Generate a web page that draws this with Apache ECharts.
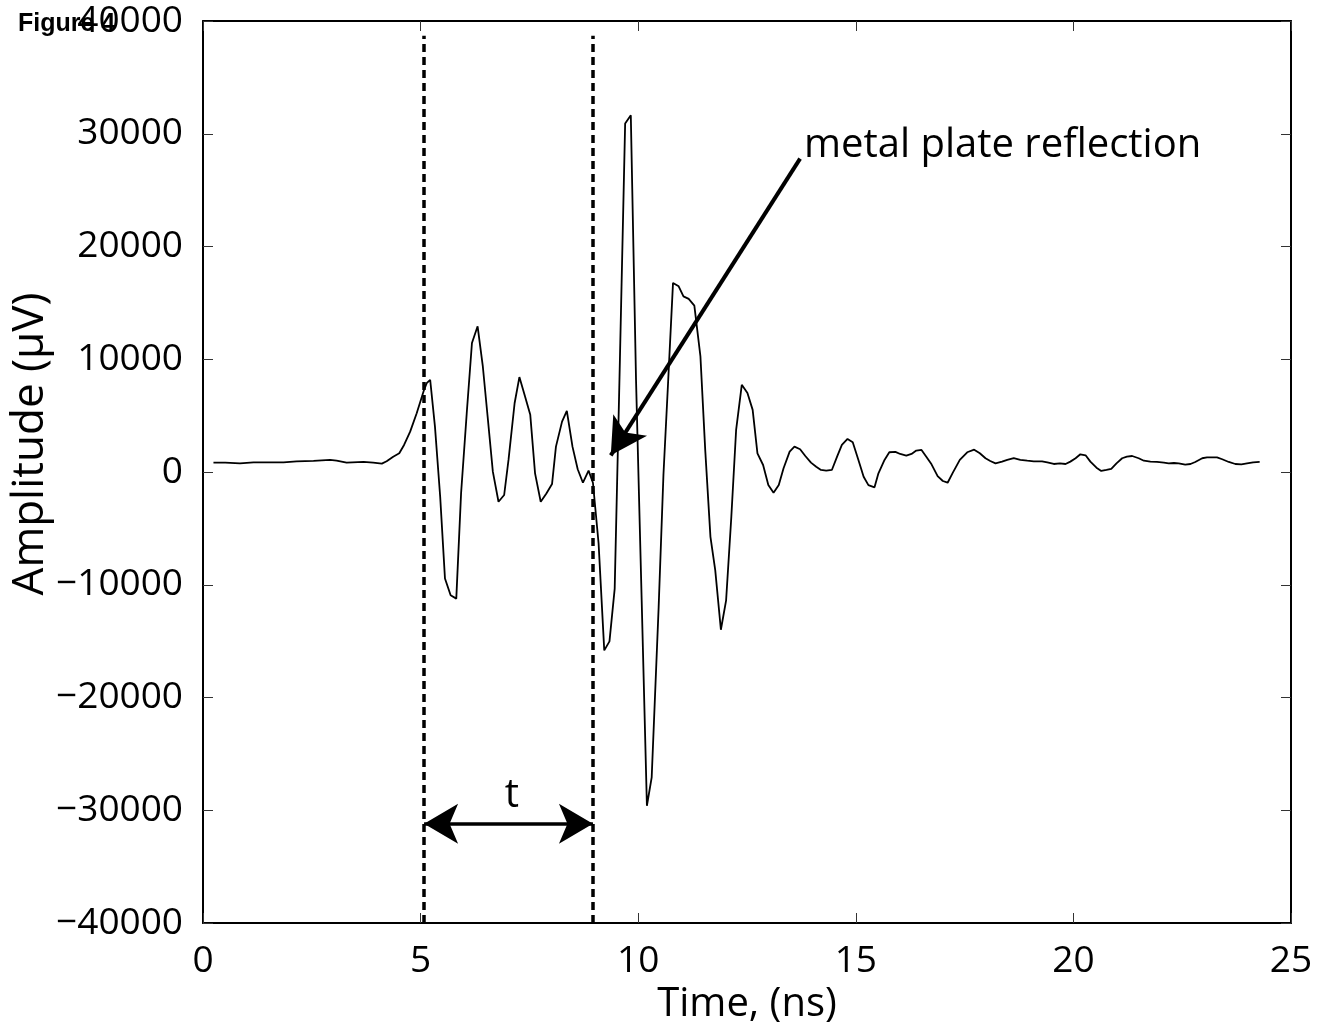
<!DOCTYPE html>
<html>
<head>
<meta charset="utf-8">
<script src="https://cdn.jsdelivr.net/npm/echarts@6/dist/echarts.min.js"></script>
<style>
html,body{margin:0;padding:0;background:#fff;}
#chart{width:1324px;height:1035px;}
</style>
</head>
<body>
<div id="chart"></div>
<script>
// Time samples (ns)
const timeNs = [
0.24,0.51,0.85,1.16,1.46,1.85,2.15,2.54,2.92,3.07,3.30,3.69,3.91,4.11,4.22,4.37,4.51,4.62,4.76,4.91,
5.08,5.14,5.22,5.33,5.45,5.56,5.69,5.82,5.93,6.06,6.18,6.31,6.43,6.54,6.66,6.79,6.92,7.02,7.16,7.27,
7.40,7.52,7.63,7.76,7.89,8.02,8.11,8.25,8.36,8.49,8.61,8.73,8.86,8.96,9.09,9.22,9.34,9.46,9.58,9.70,
9.83,9.95,10.08,10.20,10.31,10.47,10.58,10.69,10.80,10.93,11.04,11.16,11.29,11.43,11.54,11.66,11.77,11.90,12.02,12.14,
12.25,12.38,12.51,12.63,12.74,12.87,12.99,13.11,13.23,13.34,13.48,13.59,13.72,13.84,13.97,14.09,14.20,14.32,14.45,14.57,
14.68,14.81,14.93,15.06,15.18,15.29,15.43,15.52,15.66,15.77,15.91,16.02,16.16,16.28,16.39,16.51,16.62,16.74,16.88,17.00,
17.11,17.23,17.39,17.56,17.72,17.85,17.98,18.09,18.21,18.36,18.48,18.63,18.78,18.94,19.09,19.28,19.40,19.55,19.69,19.82,
19.93,20.05,20.16,20.28,20.39,20.53,20.64,20.76,20.87,20.99,21.12,21.23,21.35,21.50,21.62,21.77,21.92,22.08,22.19,22.31,
22.42,22.57,22.69,22.80,22.96,23.07,23.19,23.30,23.42,23.57,23.72,23.86,23.99,24.13,24.28
];
// Amplitude (µV)
const amplitude = [
830,830,770,860,860,860,950,980,1070,1000,830,890,830,740,950,1360,1660,2400,3580,5210,
7290,7880,8180,4030,-2190,-9450,-10930,-11230,-1900,5210,11440,12920,9360,4920,30,-2640,-2040,1070,6100,8420,
6690,5070,-120,-2640,-1900,-1070,2250,4470,5420,2250,240,-950,120,-950,-6340,-15820,-15020,-10340,10000,30900,
31640,8180,-11400,-29600,-27080,-11970,-270,8180,16770,16470,15580,15350,14760,10250,1960,-5750,-8710,-13990,-11380,-3970,
3730,7730,7000,5510,1660,620,-1160,-1840,-1160,330,1810,2250,2020,1420,830,470,180,120,180,1360,
2400,2930,2640,1070,-420,-1160,-1360,-120,1070,1750,1780,1600,1450,1600,1900,1960,1360,680,-360,-800,
-950,-60,1070,1750,1980,1660,1220,980,770,920,1070,1220,1070,1000,950,950,860,710,770,710,
920,1220,1570,1480,920,380,90,180,270,770,1220,1360,1420,1220,1000,920,890,830,770,800,
770,650,710,890,1220,1300,1300,1300,1130,890,710,680,770,860,890
];
// Annotation positions (data coordinates)
const markerTimes = [5.08, 8.96];          // dashed vertical lines
const markerTop = 38700;
const spanArrowLevel = -31200;             // "t" double arrow
const reflArrowFrom = [13.72, 27800];      // "metal plate reflection" arrow
const reflArrowTo = [9.37, 1480];
const xTicks = {min: 0, max: 25, interval: 5};
const yTicks = {min: -40000, max: 40000, interval: 10000};

const FONT = '"Open Sans", "Noto Sans", sans-serif';
const fmtNum = v => String(v).replace('-', '\u2212');

const seriesData = timeNs.map((t, i) => [t, amplitude[i]]);

const chart = echarts.init(document.getElementById('chart'), null, {renderer: 'canvas'});

const option = {
  animation: false,
  backgroundColor: '#fff',
  title: {
    text: 'Figure 4',
    left: 13, top: 7,
    textStyle: {fontFamily: '"Liberation Sans", Arial, sans-serif', fontWeight: 'bold', fontSize: 25, color: '#000'}
  },
  grid: {left: 203, right: 33, top: 21, bottom: 112, containLabel: false},
  xAxis: [{
    type: 'value', min: xTicks.min, max: xTicks.max, interval: xTicks.interval,
    position: 'bottom',
    name: 'Time, (ns)', nameLocation: 'middle', nameGap: 60,
    nameTextStyle: {fontFamily: FONT, fontSize: 40, color: '#000'},
    axisLine: {show: true, onZero: false, lineStyle: {color: '#000', width: 2}},
    axisTick: {show: true, inside: true, length: 10, lineStyle: {color: '#333', width: 1}},
    axisLabel: {fontFamily: FONT, fontSize: 37, color: '#000', margin: 20, formatter: fmtNum},
    splitLine: {show: false}
  }, {
    type: 'value', min: xTicks.min, max: xTicks.max, interval: xTicks.interval,
    position: 'top',
    axisLine: {show: true, onZero: false, lineStyle: {color: '#000', width: 2}},
    axisTick: {show: true, inside: true, length: 10, lineStyle: {color: '#333', width: 1}},
    axisLabel: {show: false},
    splitLine: {show: false}
  }],
  yAxis: [{
    type: 'value', min: yTicks.min, max: yTicks.max, interval: yTicks.interval,
    position: 'left',
    axisLine: {show: true, onZero: false, lineStyle: {color: '#000', width: 2}},
    axisTick: {show: true, inside: true, length: 10, lineStyle: {color: '#333', width: 1}},
    axisLabel: {fontFamily: FONT, fontSize: 37, color: '#000', margin: 20, formatter: fmtNum},
    splitLine: {show: false}
  }, {
    type: 'value', min: yTicks.min, max: yTicks.max, interval: yTicks.interval,
    position: 'right',
    axisLine: {show: true, onZero: false, lineStyle: {color: '#000', width: 2}},
    axisTick: {show: true, inside: true, length: 10, lineStyle: {color: '#333', width: 1}},
    axisLabel: {show: false},
    splitLine: {show: false}
  }],
  series: [{
    type: 'line',
    data: seriesData,
    xAxisIndex: 0, yAxisIndex: 0,
    symbol: 'none',
    lineStyle: {color: '#000', width: 1.8},
    z: 3,
    markLine: {
      silent: true,
      animation: false,
      label: {show: false},
      emphasis: {disabled: true},
      data: [
        [{coord: [markerTimes[0], yTicks.min], symbol: 'none', lineStyle: {type: [8, 5], width: 3.5, color: '#000'}},
         {coord: [markerTimes[0], markerTop], symbol: 'none'}],
        [{coord: [markerTimes[1], yTicks.min], symbol: 'none', lineStyle: {type: [8, 5], width: 3.5, color: '#000'}},
         {coord: [markerTimes[1], markerTop], symbol: 'none'}],
        [{coord: [markerTimes[0], spanArrowLevel], symbol: 'arrow', symbolSize: [30, 34], lineStyle: {type: 'solid', width: 3.5, color: '#000'}},
         {coord: [markerTimes[1], spanArrowLevel], symbol: 'arrow', symbolSize: [30, 34]}],
        [{coord: reflArrowFrom, symbol: 'none', lineStyle: {type: 'solid', width: 4, color: '#000'}},
         {coord: reflArrowTo, symbol: 'arrow', symbolSize: [30, 36]}]
      ],
      itemStyle: {color: '#000'}
    }
  }],
  graphic: [
    {type: 'text', x: 30, y: 444, rotation: Math.PI / 2,
     style: {text: 'Amplitude (\u03bcV)', fontFamily: FONT, fontSize: 44, fill: '#000', align: 'center', verticalAlign: 'middle'}},
    {type: 'text', x: 804, y: 146,
     style: {text: 'metal plate reflection', fontFamily: FONT, fontSize: 40, fill: '#000', align: 'left', verticalAlign: 'middle'}},
    {type: 'text', x: 512, y: 796,
     style: {text: 't', fontFamily: FONT, fontSize: 40, fill: '#000', align: 'center', verticalAlign: 'middle'}}
  ]
};
chart.setOption(option);
</script>
</body>
</html>
